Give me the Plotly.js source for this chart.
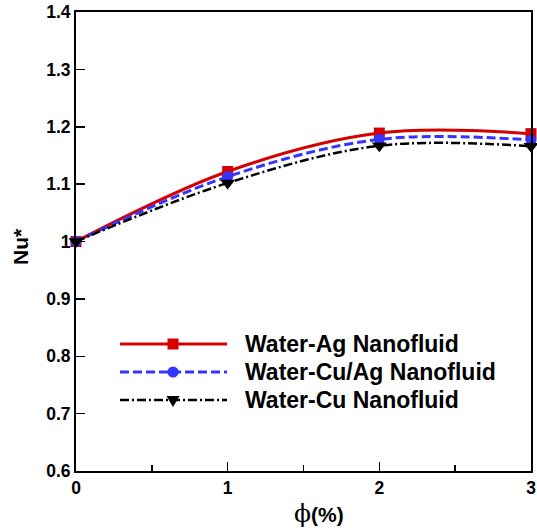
<!DOCTYPE html>
<html>
<head>
<meta charset="utf-8">
<script src="https://cdn.plot.ly/plotly-3.0.1.min.js"></script>
<style>html,body{margin:0;padding:0;background:#fff;}#chart{width:537px;height:531px;}</style>
</head>
<body>
<div id="chart"></div>
<script>
// ---- data ----
const phi = [0, 1, 2, 3];
const nuAg = [1.0, 1.122, 1.189, 1.188];
const nuCuAg = [1.0, 1.113, 1.178, 1.177];
const nuCu = [1.0, 1.102, 1.167, 1.166];
const seriesNames = ["Water-Ag Nanofluid", "Water-Cu/Ag Nanofluid", "Water-Cu Nanofluid"];
const xTickVals = [0, 1, 2, 3];
const xTickText = ["0", "1", "2", "3"];
const yTickVals = [0.6, 0.7, 0.8, 0.9, 1.0, 1.1, 1.2, 1.3, 1.4];
const yTickText = ["0.6", "0.7", "0.8", "0.9", "1", "1.1", "1.2", "1.3", "1.4"];

// ---- layout geometry helpers (pixels -> paper) ----
const W = 537, H = 531, ML = 76, MR = 6, MT = 12, MB = 60;
const PW = W - ML - MR, PH = H - MT - MB;
const px = x => (x - ML) / PW;
const py = y => (H - MB - y) / PH;

const FONT = "Liberation Sans, Arial, sans-serif";
const red = "rgb(214,0,0)", blue = "rgb(52,52,255)", black = "rgb(0,0,0)";

const styles = [
  {color: red, dash: "solid", width: 3, symbol: "square", size: 11},
  {color: blue, dash: "9px,4px", width: 3, symbol: "circle", size: 11},
  {color: black, dash: "9px,3px,2px,3px", width: 2.5, symbol: "triangle-down", size: 13}
];
const ys = [nuAg, nuCuAg, nuCu];

const traces = ys.map((y, i) => ({
  x: phi, y: y, name: seriesNames[i], type: "scatter", mode: "lines+markers",
  line: {color: styles[i].color, dash: styles[i].dash, width: styles[i].width, shape: "spline", smoothing: 1},
  marker: {color: styles[i].color, symbol: styles[i].symbol, size: styles[i].size},
  cliponaxis: false, showlegend: false
}));

// custom legend
const legRows = [344, 372, 400];
const shapes = [];
const annotations = [];
legRows.forEach((ry, i) => {
  const s = styles[i];
  shapes.push({type: "line", xref: "paper", yref: "paper", x0: px(120), x1: px(227), y0: py(ry), y1: py(ry),
    line: {color: s.color, width: s.width, dash: s.dash}});
  const half = s.size / 2;
  if (s.symbol === "square") {
    shapes.push({type: "rect", xref: "paper", yref: "paper", xsizemode: "pixel", ysizemode: "pixel",
      xanchor: px(173), yanchor: py(ry), x0: -half, x1: half, y0: -half, y1: half,
      fillcolor: s.color, line: {width: 0}});
  } else if (s.symbol === "circle") {
    shapes.push({type: "circle", xref: "paper", yref: "paper", xsizemode: "pixel", ysizemode: "pixel",
      xanchor: px(173), yanchor: py(ry), x0: -half, x1: half, y0: -half, y1: half,
      fillcolor: s.color, line: {width: 0}});
  } else {
    shapes.push({type: "path", xref: "paper", yref: "paper", xsizemode: "pixel", ysizemode: "pixel",
      xanchor: px(173), yanchor: py(ry),
      path: "M -6.5 4 L 6.5 4 L 0 -7 Z", fillcolor: s.color, line: {width: 0}});
  }
  annotations.push({xref: "paper", yref: "paper", x: px(243), y: py(ry), xanchor: "left", yanchor: "middle",
    text: seriesNames[i], showarrow: false, font: {family: FONT, size: 23, weight: "bold", color: "#000"}});
});

// axis titles
annotations.push({xref: "paper", yref: "paper", x: px(20), y: py(247), xanchor: "center", yanchor: "middle",
  textangle: -90, text: "Nu*", showarrow: false, font: {family: FONT, size: 21, weight: "bold", color: "#000"}});
annotations.push({xref: "paper", yref: "paper", x: px(319), y: py(513), xanchor: "center", yanchor: "middle",
  text: "<span style='font-family:DejaVu Serif;font-size:25px;font-weight:normal'>ϕ</span>(%)", showarrow: false,
  font: {family: FONT, size: 21, weight: "bold", color: "#000"}});

const axisCommon = {
  showgrid: false, zeroline: false, showline: true, linecolor: "#000", linewidth: 2, mirror: true,
  ticks: "inside", ticklen: 9, tickwidth: 1.5, tickcolor: "#000",
  tickfont: {family: FONT, size: 17.5, weight: "bold", color: "#000"}
};

const layout = {
  width: W, height: H, margin: {l: ML, r: MR, t: MT, b: MB},
  paper_bgcolor: "#fff", plot_bgcolor: "#fff", showlegend: false,
  xaxis: Object.assign({}, axisCommon, {range: [0, 3], tickmode: "array", tickvals: xTickVals, ticktext: xTickText,
    minor: {dtick: 0.5, ticks: "inside", ticklen: 6, tickwidth: 1.5, tickcolor: "#000"}}),
  yaxis: Object.assign({}, axisCommon, {range: [0.6, 1.4], tickmode: "array", tickvals: yTickVals, ticktext: yTickText}),
  shapes: shapes, annotations: annotations
};

Plotly.newPlot("chart", traces, layout, {displayModeBar: false, staticPlot: true});
</script>
</body>
</html>
